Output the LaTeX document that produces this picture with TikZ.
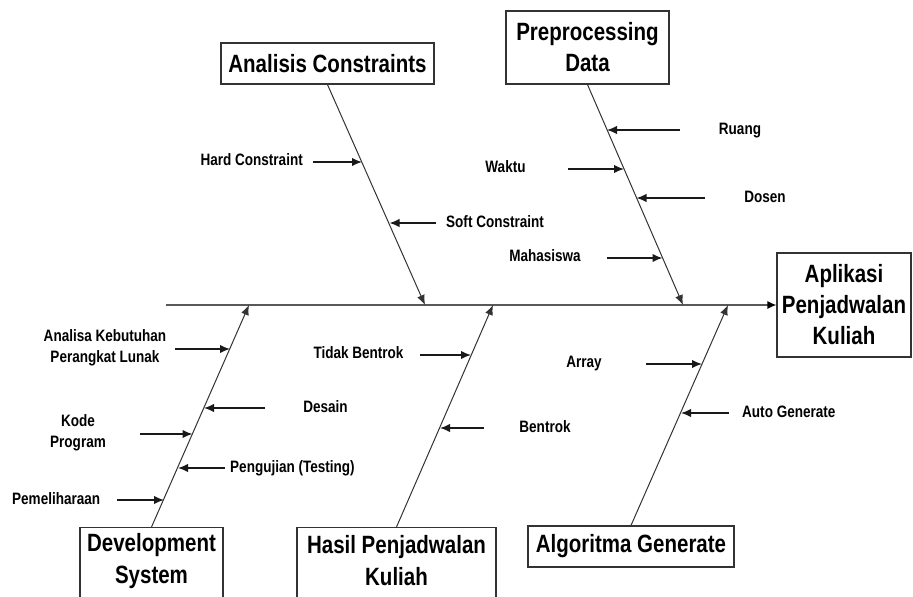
\documentclass[tikz,border=0pt]{standalone}
\usepackage{fontspec}
\setmainfont[FakeStretch=0.82]{Liberation Sans}
\usetikzlibrary{arrows.meta}
\begin{document}
\begin{tikzpicture}[x=1pt,y=-1pt,
  box/.style={draw=black!80, line width=1.2pt, inner sep=0pt, align=center, font=\bfseries\fontsize{25}{31}\selectfont},
  ttl/.style={inner sep=0pt, align=center, font=\bfseries\fontsize{25}{32}\selectfont},
  lbl/.style={inner sep=0pt, font=\bfseries\fontsize{16.5}{21}\selectfont, text height=11.5pt, text depth=3.5pt},
  lbltwo/.style={inner sep=0pt, align=center, font=\bfseries\fontsize{16.5}{21}\selectfont},
  bonearr/.style={line width=1pt, draw=black!80, -{Latex[length=10pt,width=8pt]}},
  spinearr/.style={line width=1.2pt, draw=black!65, -{Latex[length=9pt,width=8pt,color=black]}},
  arr/.style={line width=1.6pt, draw=black!90, -{Latex[length=10pt,width=8.5pt]}}]
\useasboundingbox (0,0) rectangle (913,597);
\clip (0,0) rectangle (913,597);

% ---- boxes ----
\node[box, minimum width=213pt, minimum height=41pt] (ana) at (327.5,63.5) {Analisis Constraints};
\node[box, minimum width=163pt, minimum height=73pt] (pre) at (587.5,47.5) {Preprocessing\\Data};
\node[box, minimum width=134pt, minimum height=104pt] (apl) at (844,305) {Aplikasi\\Penjadwalan\\Kuliah};
\node[box, minimum width=143pt, minimum height=110pt, anchor=north] (dev) at (151.5,527) {};
\node[ttl] at (151.5,561) {Development\\System};
\node[box, minimum width=199pt, minimum height=110pt, anchor=north] (has) at (396.5,527) {};
\node[ttl] at (396.5,561) {Hasil Penjadwalan\\Kuliah};
\node[box, minimum width=206pt, minimum height=41pt] (alg) at (631,546.5) {Algoritma Generate};

% ---- spine ----
\coordinate (sp) at (166,305);
\draw[spinearr] (sp) -- (apl.west);

% ---- bone tips on spine ----
\coordinate (tana) at (425,305);
\coordinate (tpre) at (683,305);
\coordinate (tdev) at (249,305);
\coordinate (thas) at (493,305);
\coordinate (talg) at (728,305);
\draw[bonearr] (ana.south) -- (tana);
\draw[bonearr] (pre.south) -- (tpre);
\draw[bonearr] (dev.north) -- (tdev);
\draw[bonearr] (has.north) -- (thas);
\draw[bonearr] (alg.north) -- (talg);

% ---- Analisis Constraints ----
\node[lbl, anchor=east] (hard) at (303,161) {Hard Constraint};
\coordinate (hard0) at (313,162); \coordinate (hard1) at (362,162);
\draw[arr] (hard0) -- (hard1);
\node[lbl, anchor=west] (soft) at (446,223) {Soft Constraint};
\coordinate (soft0) at (436,223); \coordinate (soft1) at (389.5,223);
\draw[arr] (soft0) -- (soft1);

% ---- Preprocessing Data ----
\node[lbl] (ruang) at (740,130) {Ruang};
\coordinate (ruang0) at (680,130); \coordinate (ruang1) at (607,130);
\draw[arr] (ruang0) -- (ruang1);
\node[lbl] (waktu) at (505.5,168) {Waktu};
\coordinate (waktu0) at (568,169); \coordinate (waktu1) at (624,169);
\draw[arr] (waktu0) -- (waktu1);
\node[lbl] (dosen) at (765,198) {Dosen};
\coordinate (dosen0) at (705,198); \coordinate (dosen1) at (636.5,198);
\draw[arr] (dosen0) -- (dosen1);
\node[lbl] (maha) at (545,257) {Mahasiswa};
\coordinate (maha0) at (607,258); \coordinate (maha1) at (662.5,258);
\draw[arr] (maha0) -- (maha1);

% ---- Development System ----
\node[lbltwo] (akpl) at (105,348) {Analisa Kebutuhan\\Perangkat Lunak};
\coordinate (akpl0) at (175,349); \coordinate (akpl1) at (230,349);
\draw[arr] (akpl0) -- (akpl1);
\node[lbl] (desain) at (325.5,408) {Desain};
\coordinate (desain0) at (265,408); \coordinate (desain1) at (204,408);
\draw[arr] (desain0) -- (desain1);
\node[lbltwo] (kode) at (78,433) {Kode\\Program};
\coordinate (kode0) at (140,434); \coordinate (kode1) at (192.5,434);
\draw[arr] (kode0) -- (kode1);
\node[lbl, anchor=west] (uji) at (230,468) {Pengujian (Testing)};
\coordinate (uji0) at (225,468); \coordinate (uji1) at (178,468);
\draw[arr] (uji0) -- (uji1);
\node[lbl, anchor=west] (pel) at (12,500) {Pemeliharaan};
\coordinate (pel0) at (117,500); \coordinate (pel1) at (164,500);
\draw[arr] (pel0) -- (pel1);

% ---- Hasil Penjadwalan Kuliah ----
\node[lbl] (tb) at (358.5,354) {Tidak Bentrok};
\coordinate (tb0) at (420,355); \coordinate (tb1) at (471,355);
\draw[arr] (tb0) -- (tb1);
\node[lbl] (bt) at (545,428) {Bentrok};
\coordinate (bt0) at (484,428); \coordinate (bt1) at (440,428);
\draw[arr] (bt0) -- (bt1);

% ---- Algoritma Generate ----
\node[lbl] (array) at (584,363) {Array};
\coordinate (array0) at (646,364); \coordinate (array1) at (702,364);
\draw[arr] (array0) -- (array1);
\node[lbl, anchor=west] (auto) at (742,413) {Auto Generate};
\coordinate (auto0) at (729,413); \coordinate (auto1) at (681,413);
\draw[arr] (auto0) -- (auto1);
\end{tikzpicture}
\end{document}
